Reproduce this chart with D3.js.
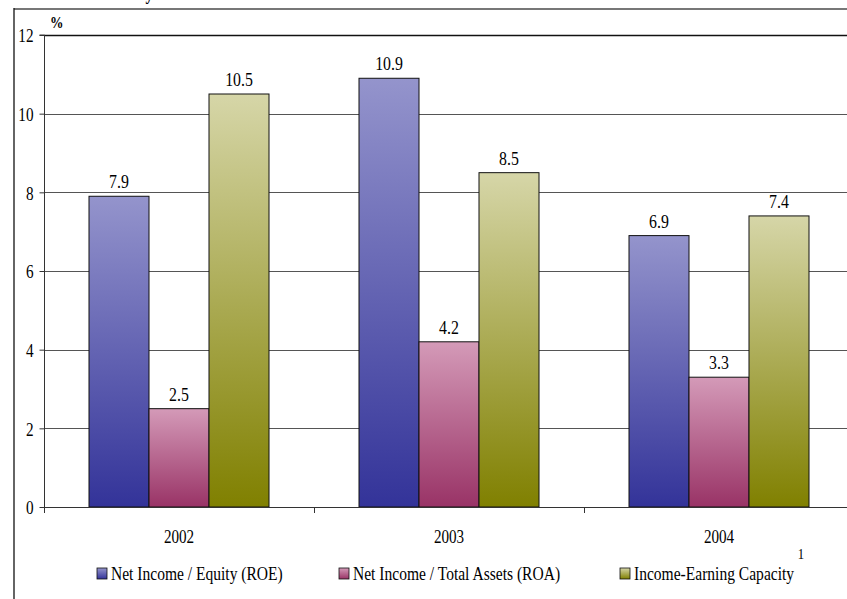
<!DOCTYPE html>
<html>
<head>
<meta charset="utf-8">
<script src="https://cdn.jsdelivr.net/npm/d3@7"></script>
<style>
  html, body { margin: 0; padding: 0; background: #fff; }
  svg { display: block; }
</style>
</head>
<body>
<svg id="chart" width="847" height="599"></svg>
<script>
// Profitability ratios by year (%)
const years = ["2002", "2003", "2004"];
const seriesNames = ["Net Income / Equity (ROE)", "Net Income / Total Assets (ROA)", "Income-Earning Capacity"];
const roe = [7.9, 10.9, 6.9];
const roa = [2.5, 4.2, 3.3];
const iec = [10.5, 8.5, 7.4];
const yTicks = [0, 2, 4, 6, 8, 10, 12];

// Gradient stops (top light -> bottom dark) per series
const topColors = ["#9494cc", "#d49ab8", "#d6d6a8"];
const bottomColors = ["#333399", "#993366", "#808000"];

const SERIF = "Liberation Serif";
const SQUEEZE = 0.84;   // narrow, tall type

const svg = d3.select("#chart").attr("font-family", SERIF);
const W = 847;

const margin = { left: 44, top: 35, bottom: 507 };
const plotRight = 854;

// Condense a text selection horizontally while keeping its height
function squeeze(sel, k = SQUEEZE) {
  sel.each(function() {
    const len = this.getComputedTextLength();
    d3.select(this).attr("textLength", len * k).attr("lengthAdjust", "spacingAndGlyphs");
  });
  return sel;
}

const defs = svg.append("defs");
seriesNames.forEach((s, i) => {
  const g = defs.append("linearGradient")
    .attr("id", "grad" + i)
    .attr("x1", 0).attr("y1", 0).attr("x2", 0).attr("y2", 1);
  g.append("stop").attr("offset", "0%").attr("stop-color", topColors[i]);
  g.append("stop").attr("offset", "100%").attr("stop-color", bottomColors[i]);
});

// Title (sits mostly above the visible area)
svg.append("text")
  .attr("x", 153).attr("y", 0)
  .attr("text-anchor", "end")
  .attr("font-size", 18).attr("font-weight", "bold")
  .text("Profitability")
  .call(squeeze);

// Outer frame
svg.append("line").attr("x1", 14).attr("x2", W).attr("y1", 9).attr("y2", 9)
  .attr("stroke", "#777").attr("stroke-width", 2);
svg.append("line").attr("x1", 14).attr("x2", 14).attr("y1", 8).attr("y2", 599)
  .attr("stroke", "#111").attr("stroke-width", 1.3);

const y = d3.scaleLinear().domain([0, 12]).range([margin.bottom, margin.top]);
const x0 = d3.scaleBand().domain(years).range([margin.left, margin.left + 3 * 270]);
const x1 = d3.scaleBand().domain(d3.range(3)).range([45, 225]);

// Gridlines
svg.append("g").selectAll("line").data(yTicks.filter(d => d > 0)).join("line")
  .attr("x1", margin.left).attr("x2", plotRight)
  .attr("y1", d => Math.round(y(d)) + 0.5).attr("y2", d => Math.round(y(d)) + 0.5)
  .attr("stroke", d => d === 12 ? "#111" : "#555").attr("stroke-width", d => d === 12 ? 1.3 : 1);

// Y axis
const yAxis = d3.axisLeft(y).tickValues(yTicks).tickSize(5).tickPadding(6).tickFormat(d3.format("d"));
const ya = svg.append("g").attr("transform", `translate(${margin.left + 0.5},0)`).call(yAxis)
  .attr("font-family", SERIF).attr("font-size", 19);
ya.select(".domain").attr("stroke", "#333").attr("d", `M-5,${margin.top}H0V${margin.bottom}`);
ya.selectAll(".tick line").attr("stroke", "#333");
ya.selectAll(".tick text").attr("fill", "#000").attr("dy", "0.36em").call(squeeze, 0.8);

svg.append("text").attr("x", 50).attr("y", 28)
  .attr("font-size", 16).attr("font-weight", "bold").text("%").call(squeeze);

// Bars
const data = years.map((yr, i) => ({ year: yr, vals: [roe[i], roa[i], iec[i]] }));
const groups = svg.append("g").selectAll("g").data(data).join("g")
  .attr("transform", d => `translate(${x0(d.year)},0)`);

groups.selectAll("rect").data(d => d.vals.map((v, i) => ({ v, i }))).join("rect")
  .attr("x", d => x1(d.i))
  .attr("width", x1.bandwidth())
  .attr("y", d => y(d.v))
  .attr("height", d => y(0) - y(d.v))
  .attr("fill", d => `url(#grad${d.i})`)
  .attr("stroke", "#111").attr("stroke-width", 1);

// Value labels with white backing
groups.selectAll("g.lbl").data(d => d.vals.map((v, i) => ({ v, i }))).join("g")
  .attr("class", "lbl")
  .each(function(d) {
    const g = d3.select(this);
    const cx = x1(d.i) + x1.bandwidth() / 2;
    const by = y(d.v) - 8;
    const t = g.append("text").attr("x", cx).attr("y", by)
      .attr("text-anchor", "middle").attr("font-size", 18).text(d3.format(".1f")(d.v));
    squeeze(t, 0.88);
    const w = t.node().getComputedTextLength() * 0.88;
    g.insert("rect", "text").attr("x", cx - w / 2 - 2).attr("y", by - 14).attr("width", w + 4).attr("height", 17)
      .attr("fill", "#fff");
  });

// X axis baseline and ticks
svg.append("line").attr("x1", margin.left).attr("x2", plotRight)
  .attr("y1", margin.bottom + 0.5).attr("y2", margin.bottom + 0.5).attr("stroke", "#333");
svg.append("g").selectAll("line").data(years.concat(["end"])).join("line")
  .attr("x1", (d, i) => margin.left + i * 270 + 0.5).attr("x2", (d, i) => margin.left + i * 270 + 0.5)
  .attr("y1", margin.bottom).attr("y2", margin.bottom + 6).attr("stroke", "#333");

svg.append("g").selectAll("text").data(years).join("text")
  .attr("x", d => x0(d) + x0.bandwidth() / 2)
  .attr("y", 543)
  .attr("text-anchor", "middle").attr("font-size", 18).text(d => d)
  .call(squeeze);

// Legend
const legendX = [97, 339, 620];
const lg = svg.append("g").selectAll("g").data(seriesNames).join("g")
  .attr("transform", (d, i) => `translate(${legendX[i]},568)`);
lg.append("rect").attr("width", 10).attr("height", 11)
  .attr("fill", (d, i) => `url(#grad${i})`).attr("stroke", "#111").attr("stroke-width", 0.8);
lg.append("text").attr("x", 14).attr("y", 12)
  .attr("font-size", 18.5).text(d => d)
  .call(squeeze);
svg.append("text").attr("x", 801).attr("y", 559)
  .attr("text-anchor", "middle").attr("font-size", 15).text("1").call(squeeze);
</script>
</body>
</html>
